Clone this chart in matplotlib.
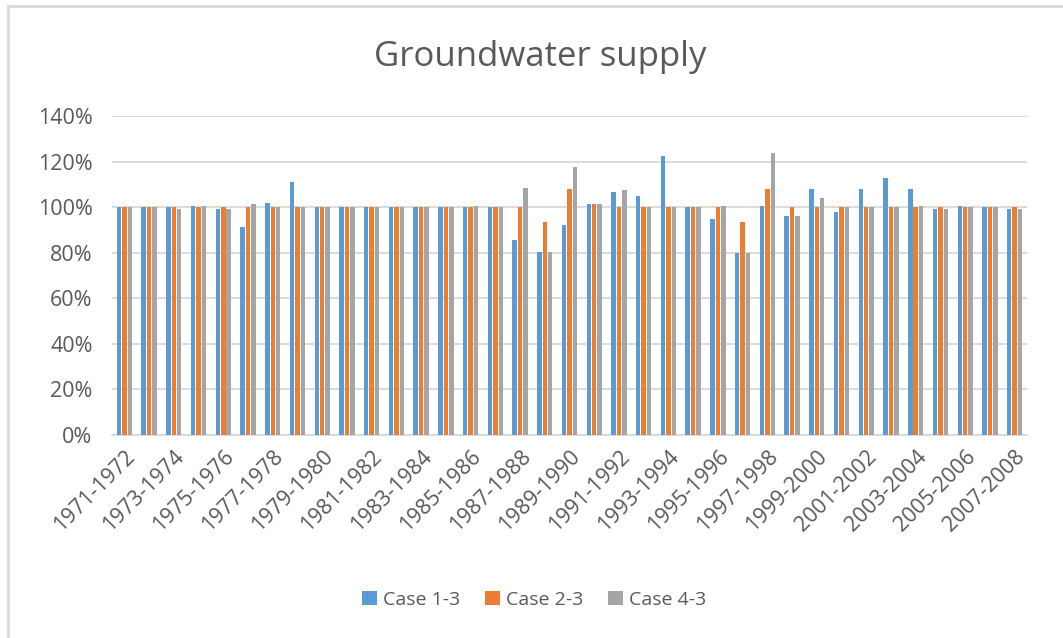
import matplotlib.pyplot as plt
import numpy as np
from matplotlib.lines import Line2D

plt.rcParams['font.family'] = ['Open Sans', 'DejaVu Sans']

years = [f"{y}-{y + 1}" for y in range(1971, 2008)]

case_1_3 = [100, 100, 100, 100.4, 99.3, 91.1, 101.8, 111.1, 100, 100,
            100, 100, 100, 100, 100, 100, 85.5, 80.3, 92.3, 101.2,
            106.8, 104.9, 122.5, 100, 94.8, 79.7, 100.4, 96.1, 108, 97.9,
            108, 113, 108, 99.3, 100.4, 100, 99.3]
case_2_3 = [100, 100, 100, 100, 100, 100, 100, 100, 100, 100,
            100, 100, 100, 100, 100, 100, 100, 93.6, 108, 101.2,
            100, 100, 100, 100, 100, 93.6, 108, 100, 100, 100,
            100, 100, 100, 100, 100, 100, 100]
case_4_3 = [100, 100, 99.3, 100.4, 99.3, 101.2, 100, 100, 100, 100,
            100, 100, 100, 100, 100.4, 100, 108.6, 80.3, 117.5, 101.2,
            107.4, 100, 100, 100, 100.4, 79.7, 123.7, 96.1, 104.1, 100,
            100, 100, 100.4, 99.3, 100, 100, 99.3]

series = [("Case 1-3", case_1_3, "#5B9BD5"),
          ("Case 2-3", case_2_3, "#ED7D31"),
          ("Case 4-3", case_4_3, "#A5A5A5")]

fig = plt.figure(figsize=(10.63, 6.38), dpi=100)
ax = fig.add_axes([112 / 1063, 1 - 435 / 638, 915 / 1063, 319 / 638])

x = np.arange(len(years))
for i, (name, vals, color) in enumerate(series):
    ax.bar(x + (i - 1) * 0.22, vals, width=0.18, color=color, label=name, zorder=3)

ax.set_xlim(-0.5, len(years) - 0.5)
ax.set_ylim(0, 140)
ax.set_yticks(np.arange(0, 141, 20))
ax.set_yticklabels([f"{v}%" for v in range(0, 141, 20)])
ax.yaxis.grid(True, color="#D9D9D9", linewidth=1.3, zorder=0)
ax.set_xticks(x[::2])
ax.set_xticklabels(years[::2], rotation=45, ha="right", rotation_mode="anchor")
ax.tick_params(axis="both", length=0, labelsize=15.5, colors="#595959")
ax.tick_params(axis="y", pad=14)
ax.tick_params(axis="x", pad=8)
for s in ["top", "right", "left"]:
    ax.spines[s].set_visible(False)
ax.spines["bottom"].set_color("#D9D9D9")
ax.spines["bottom"].set_linewidth(1.3)

fig.text(540 / 1063, 1 - 57 / 638, "Groundwater supply", fontsize=25,
         color="#595959", ha="center", va="center")

leg = fig.legend(loc="center", bbox_to_anchor=(534 / 1063, 1 - 600 / 638), ncol=3,
                 frameon=False, fontsize=14, handlelength=0.75, handleheight=0.75,
                 columnspacing=1.3, handletextpad=0.3)
for t in leg.get_texts():
    t.set_color("#595959")

# chart area border (top and left only visible)
fig.add_artist(Line2D([8 / 1063, 8 / 1063], [0, 1 - 6 / 638], color="#D9D9D9", lw=2))
fig.add_artist(Line2D([8 / 1063, 1], [1 - 6 / 638, 1 - 6 / 638], color="#D9D9D9", lw=2))

fig.savefig("out.png", dpi=100)
